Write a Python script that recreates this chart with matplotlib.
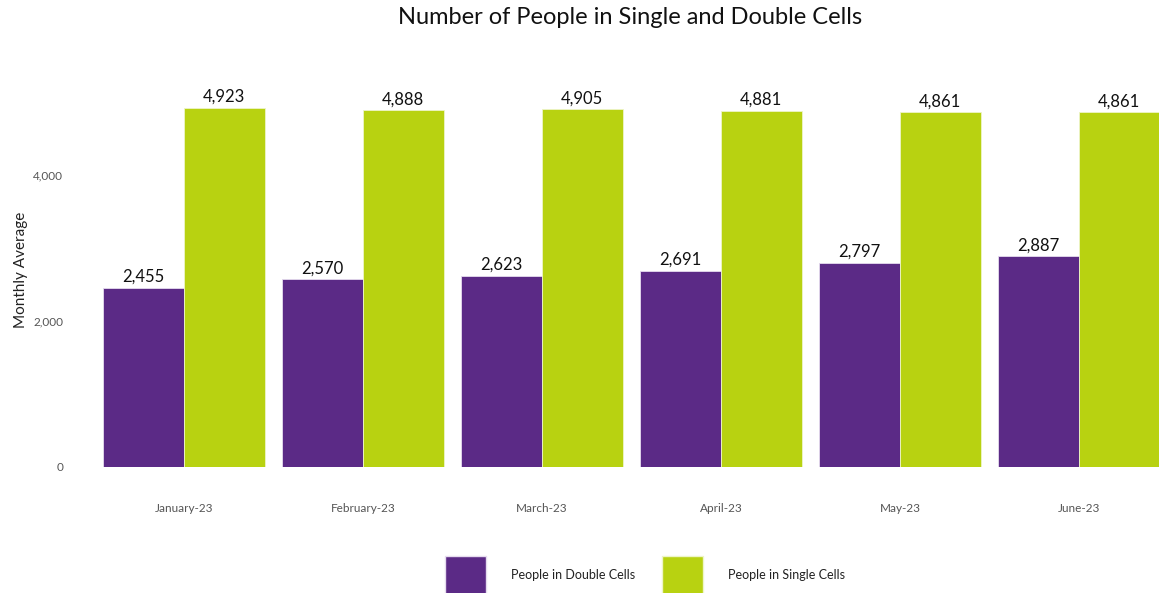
import matplotlib.pyplot as plt
import numpy as np
from matplotlib.patches import Patch

plt.rcParams['font.family'] = ['Lato', 'DejaVu Sans']

months = ["January-23", "February-23", "March-23", "April-23", "May-23", "June-23"]
double_cells = [2455, 2570, 2623, 2691, 2797, 2887]
single_cells = [4923, 4888, 4905, 4881, 4861, 4861]

purple = "#5B2A86"
green = "#B8D211"

fig = plt.figure(figsize=(11.59, 5.93), dpi=100)
ax = fig.add_axes([0.0738, 0.2125, 0.9267, 0.6644])

x = np.arange(len(months))
w = 0.45
ax.bar(x - w / 2, double_cells, width=w, color=purple, edgecolor="#e6dcef", linewidth=0.6)
ax.bar(x + w / 2, single_cells, width=w, color=green, edgecolor="#eef5c8", linewidth=0.6)

for i in range(len(months)):
    ax.text(x[i] - w / 2, double_cells[i] + 40, f"{double_cells[i]:,}",
            ha="center", va="bottom", fontsize=12, color="#111111")
    ax.text(x[i] + w / 2, single_cells[i] + 40, f"{single_cells[i]:,}",
            ha="center", va="bottom", fontsize=12, color="#111111")

ax.set_xlim(-0.55, 5.45)
ax.set_ylim(0, 5400)
ax.set_yticks([0, 2000, 4000])
ax.set_yticklabels(["0", "2,000", "4,000"])
ax.set_xticks(x)
ax.set_xticklabels(months)
ax.tick_params(axis="both", length=0, labelsize=8.5, labelcolor="#555555")
ax.tick_params(axis="x", pad=26)
ax.tick_params(axis="y", pad=16)
for s in ax.spines.values():
    s.set_visible(False)

ax.set_ylabel("Monthly Average", fontsize=11, color="#222222", labelpad=4)

fig.text(0.544, 0.97, "Number of People in Single and Double Cells",
         fontsize=17, ha="center", va="center", color="#111111")

handles = [Patch(facecolor=purple, edgecolor="#e6dcef"), Patch(facecolor=green, edgecolor="#eef5c8")]
fig.legend(handles, ["People in Double Cells", "People in Single Cells"],
           loc="center", bbox_to_anchor=(0.5565, 0.029), ncol=2, frameon=False,
           fontsize=9, handlelength=3.3, handleheight=4.4, handletextpad=2.0,
           columnspacing=2.1, labelcolor="#222222", borderpad=0)

fig.savefig("out.png", dpi=100)
